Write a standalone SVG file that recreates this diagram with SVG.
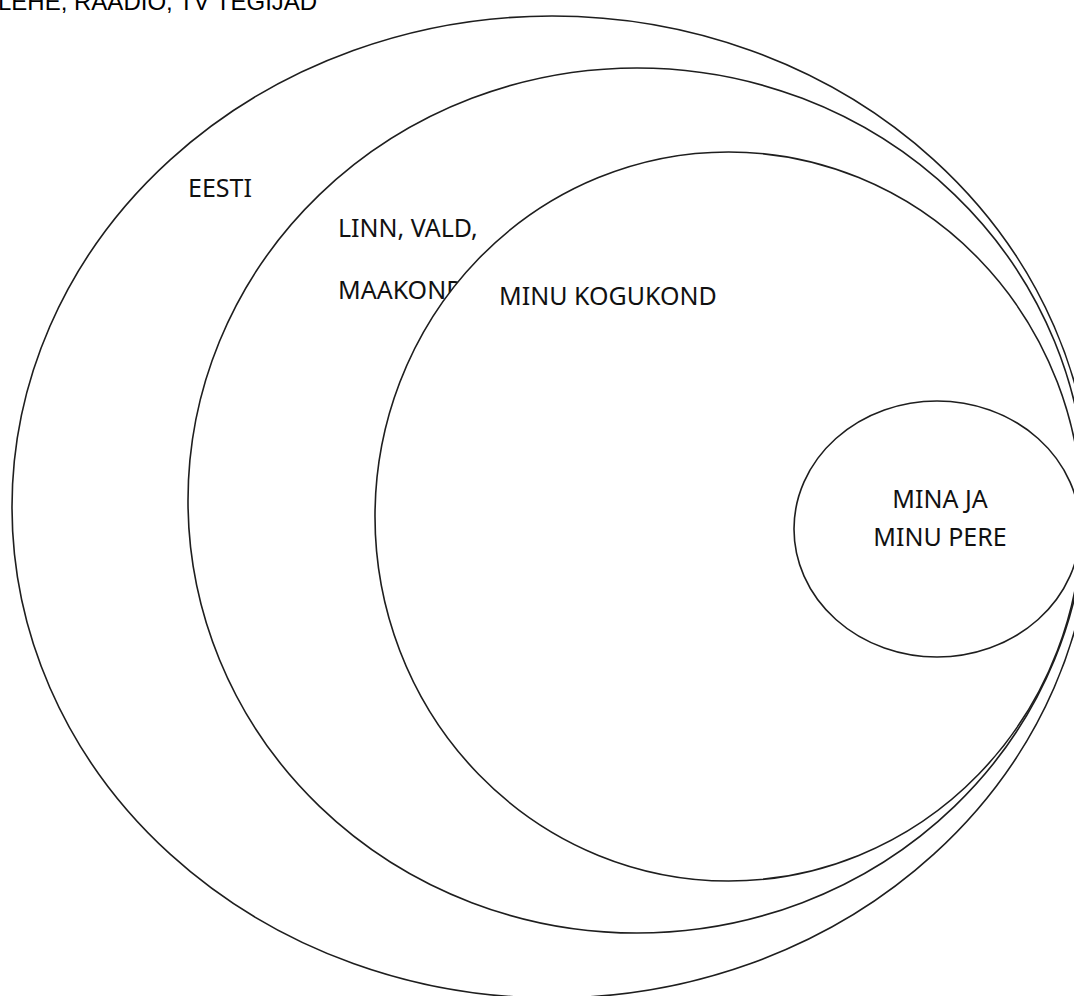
<svg xmlns="http://www.w3.org/2000/svg" width="1074" height="996" viewBox="0 0 1074 996">
<style>
.ring{fill:#ffffff;stroke:#1e1e1e;stroke-width:1.6}
.lbl{font-family:"Noto Sans","Open Sans",sans-serif;font-size:25px;fill:#111111}
.top{font-family:"Liberation Sans",Arial,sans-serif;font-size:24px;fill:#000000}
</style>
<rect width="1074" height="996" fill="#ffffff"/>
<text class="top" x="-2" y="10">LEHE, RAADIO, TV TEGIJAD</text>
<g id="eesti">
<ellipse class="ring" cx="552" cy="507" rx="540" ry="491"/>
<text class="lbl" x="188" y="197">EESTI</text>
</g>
<g id="linn">
<ellipse class="ring" cx="637" cy="500.5" rx="449" ry="432.5"/>
<text class="lbl" x="338" y="237">LINN, VALD,</text>
<text class="lbl" x="338" y="299">MAAKOND</text>
</g>
<g id="kogukond">
<ellipse class="ring" cx="728.6" cy="516.5" rx="353.6" ry="364.5"/>
<text class="lbl" x="499" y="305">MINU KOGUKOND</text>
</g>
<g id="pere">
<ellipse class="ring" cx="937" cy="529" rx="143" ry="128"/>
<text class="lbl" x="940" y="508" text-anchor="middle">MINA JA</text>
<text class="lbl" x="940" y="546" text-anchor="middle">MINU PERE</text>
</g>
<g id="connectors"/>
</svg>
